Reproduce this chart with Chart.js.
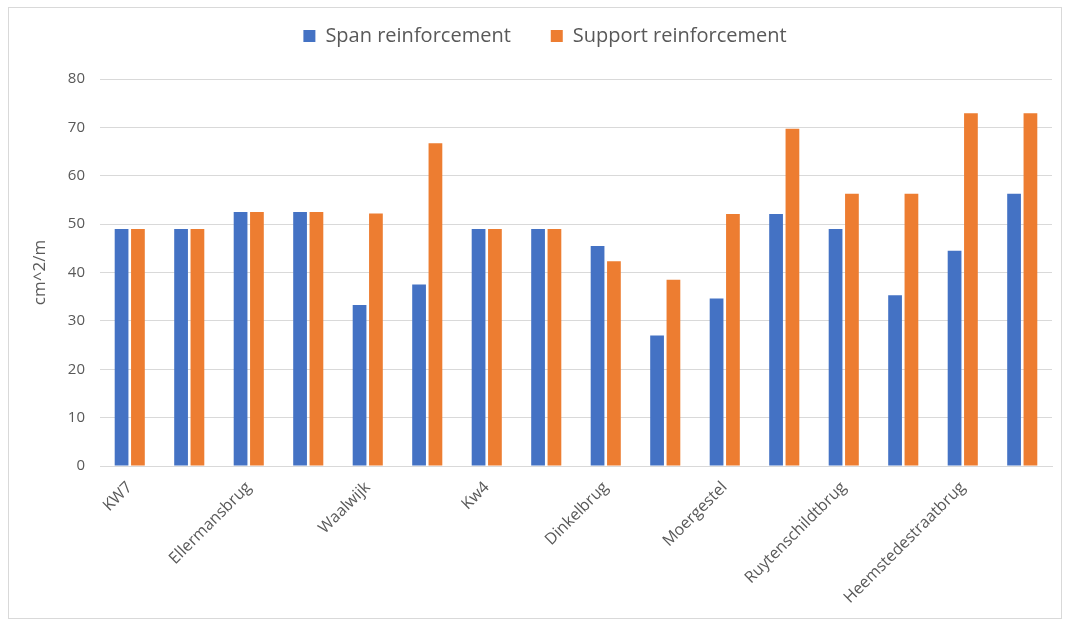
<!DOCTYPE html>
<html>
<head>
<meta charset="utf-8">
<script src="https://cdn.jsdelivr.net/npm/chart.js@4/dist/chart.umd.min.js"></script>
<style>
    html, body { margin: 0; padding: 0; background: #fff; }
    #frame { position: absolute; left: 8px; top: 7px; width: 1052px; height: 610px; border: 1px solid #d9d9d9; }
    canvas { position: absolute; left: 0; top: 0; }
</style>
</head>
<body>
<div id="frame"></div>
<canvas id="chart" width="1067" height="623"></canvas>
<script>
// Categorías (Excel solo muestra una etiqueta de cada dos)
const categories = ['KW7', '', 'Ellermansbrug', '', 'Waalwijk', '', 'Kw4', '',
    'Dinkelbrug', '', 'Moergestel', '', 'Ruytenschildtbrug', '', 'Heemstedestraatbrug', ''];

const spanValues = [49, 49, 52.5, 52.5, 33.3, 37.5, 49, 49, 45.5, 27, 34.6, 52.1, 49, 35.3, 44.5, 56.3];
const supportValues = [49, 49, 52.5, 52.5, 52.2, 66.7, 49, 49, 42.3, 38.5, 52.1, 69.7, 56.3, 56.3, 72.9, 72.9];

const yTicks = [0, 10, 20, 30, 40, 50, 60, 70, 80];

const gris = '#595959';
const font = "'Open Sans', 'Noto Sans', sans-serif";

// Altura fija de la leyenda y posición de sus elementos
const legendSpace = {
    id: 'legendSpace',
    beforeInit(chart) {
        const legend = chart.legend;
        const fit = legend.fit;
        legend.fit = function() {
            fit.call(this);
            this.height = 69;
        };
        const draw = legend.draw;
        legend.draw = function() {
            const c = this.ctx;
            c.save();
            c.translate(19, -24);
            draw.call(this);
            c.restore();
        };
    }
};

const ctx = document.getElementById('chart');
new Chart(ctx, {
    type: 'bar',
    data: {
        labels: categories,
        datasets: [{
            label: 'Span reinforcement',
            data: spanValues,
            backgroundColor: '#4472C4',
            categoryPercentage: 0.55,
            barPercentage: 0.84
        }, {
            label: 'Support reinforcement',
            data: supportValues,
            backgroundColor: '#ED7D31',
            categoryPercentage: 0.55,
            barPercentage: 0.84
        }]
    },
    plugins: [legendSpace],
    options: {
        responsive: false,
        animation: false,
        layout: { padding: { left: 0, right: 15, top: 10, bottom: 0 } },
        plugins: {
            legend: {
                position: 'top',
                labels: {
                    boxWidth: 12,
                    boxHeight: 12,
                    padding: 40,
                    color: gris,
                    font: { family: font, size: 20 }
                }
            },
            tooltip: { enabled: false }
        },
        scales: {
            x: {
                afterFit: axis => { axis.height = 157; },
                grid: { display: false },
                border: { color: '#d9d9d9' },
                ticks: {
                    autoSkip: false,
                    maxRotation: 45,
                    minRotation: 45,
                    padding: 4,
                    color: gris,
                    font: { family: font, size: 16 }
                }
            },
            y: {
                min: 0,
                max: 80,
                afterFit: axis => { axis.width = 100; },
                afterBuildTicks: axis => { axis.ticks = yTicks.map(v => ({ value: v })); },
                grid: { color: '#d9d9d9', drawTicks: false },
                border: { display: false },
                title: {
                    display: true,
                    text: 'cm^2/m',
                    color: gris,
                    font: { family: font, size: 17 },
                    padding: { top: 30, bottom: 0 }
                },
                ticks: {
                    padding: 15,
                    color: gris,
                    font: { family: font, size: 15 }
                }
            }
        }
    }
});
</script>
</body>
</html>
